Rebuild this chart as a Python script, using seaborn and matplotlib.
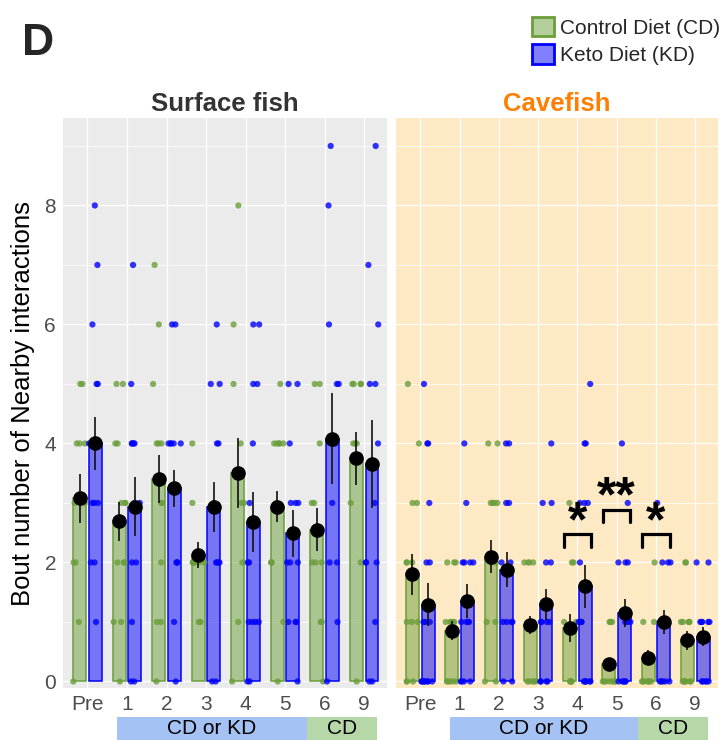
import numpy as np
import pandas as pd
import matplotlib
matplotlib.use('Agg')
import matplotlib.pyplot as plt
import seaborn as sns
from matplotlib.patches import Patch, Rectangle
from matplotlib.ticker import MultipleLocator

sns.set_style('white')
plt.rcParams['font.family'] = ['Liberation Sans', 'DejaVu Sans']

# ---- data ----
days = ['Pre', '1', '2', '3', '4', '5', '6', '9']
diets = ['CD', 'KD']
fish_titles = ['Surface fish', 'Cavefish']

surface_cd_mean = [3.08, 2.69, 3.40, 2.12, 3.50, 2.94, 2.55, 3.75]
surface_cd_sem = [0.41, 0.33, 0.40, 0.22, 0.59, 0.26, 0.36, 0.44]
surface_kd_mean = [4.00, 2.94, 3.25, 2.94, 2.68, 2.49, 4.08, 3.66]
surface_kd_sem = [0.45, 0.49, 0.31, 0.42, 0.50, 0.39, 0.76, 0.74]
cave_cd_mean = [1.80, 0.85, 2.10, 0.95, 0.90, 0.30, 0.40, 0.69]
cave_cd_sem = [0.34, 0.16, 0.27, 0.15, 0.24, 0.07, 0.13, 0.16]
cave_kd_mean = [1.29, 1.35, 1.88, 1.30, 1.60, 1.15, 1.00, 0.75]
cave_kd_sem = [0.36, 0.28, 0.29, 0.26, 0.36, 0.23, 0.20, 0.16]

# individual fish (bout counts), one list per day
surface_cd_pts = [
    [5, 5, 4, 4, 4, 3, 3, 2, 2, 1, 0],
    [5, 5, 4, 4, 3, 3, 3, 2, 2, 2, 1, 1, 0],
    [7, 6, 5, 4, 4, 4, 3, 3, 2, 1, 1, 0],
    [4, 3, 2, 2, 2, 2, 2, 2, 2, 1, 1],
    [8, 6, 5, 4, 3, 3, 2, 1, 0],
    [5, 4, 4, 4, 4, 4, 3, 2, 2, 2, 1, 0],
    [5, 5, 4, 3, 3, 2, 2, 2, 1, 1, 0],
    [5, 5, 5, 5, 4, 4, 4, 3, 2, 0],
]
surface_kd_pts = [
    [8, 7, 6, 5, 5, 4, 4, 4, 3, 3, 3, 2, 2, 1],
    [7, 5, 4, 4, 4, 4, 3, 3, 2, 2, 1, 0, 0],
    [6, 6, 4, 4, 4, 4, 4, 2, 2, 2, 1, 0],
    [6, 5, 5, 4, 4, 3, 2, 2, 2, 2, 0, 0],
    [6, 6, 5, 5, 4, 3, 2, 2, 1, 1, 1, 1, 0, 0],
    [5, 5, 4, 3, 3, 3, 2, 2, 2, 1, 1, 1, 0],
    [9, 8, 6, 5, 5, 4, 3, 2, 2, 1, 0],
    [9, 7, 6, 5, 5, 4, 3, 2, 2, 2, 1, 0, 0],
]
cave_cd_pts = [
    [5, 4, 3, 3, 2, 2, 2, 1, 1, 1, 0, 0, 0],
    [2, 2, 2, 1, 1, 1, 1, 1, 0, 0, 0, 0, 0],
    [4, 4, 3, 3, 3, 3, 2, 2, 1, 1, 0, 0],
    [2, 2, 2, 2, 1, 1, 1, 0, 0, 0, 0, 0],
    [3, 2, 2, 1, 1, 0, 0, 0, 0, 0],
    [1, 1, 1, 0, 0, 0, 0, 0, 0, 0],
    [2, 1, 1, 0, 0, 0, 0, 0, 0, 0],
    [2, 2, 1, 1, 1, 1, 1, 0, 0, 0, 0, 0, 0],
]
cave_kd_pts = [
    [5, 4, 4, 3, 2, 2, 1, 1, 1, 0, 0, 0, 0, 0, 0, 0, 0],
    [4, 3, 2, 2, 2, 2, 1, 1, 1, 1, 0, 0, 0, 0],
    [4, 4, 3, 3, 2, 2, 1, 1, 1, 1, 0, 0],
    [4, 3, 3, 2, 2, 1, 1, 1, 1, 0, 0, 0, 0],
    [5, 4, 4, 3, 3, 3, 2, 1, 1, 1, 1, 0, 0, 0, 0, 0, 0],
    [4, 3, 2, 2, 2, 1, 1, 1, 0, 0, 0, 0, 0],
    [3, 2, 2, 2, 1, 1, 0, 0, 0, 0, 0],
    [2, 2, 1, 1, 1, 1, 1, 0, 0, 0, 0, 0],
]

# significance (cavefish, CD vs KD)
sig_days = ['4', '5', '6']
sig_labels = ['*', '**', '*']
sig_heights = [2.47, 2.89, 2.47]

# treatment phases shown under the x axis
phase_labels = ['CD or KD', 'CD']
phase_spans = [(0.75, 5.55), (5.55, 7.32)]
phase_colors = ['#A4C2F4', '#B6D7A8']

# ---- styling ----
cd_color = '#6B9E3A'
kd_color = '#0000FF'
pal = {'CD': cd_color, 'KD': kd_color}
bg_colors = ['#EBEBEB', '#FEE9C5']
title_colors = ['#333333', '#FF7F00']
tick_gray = '#4D4D4D'


def summary_frame(cd_mean, cd_sem, kd_mean, kd_sem):
    return pd.DataFrame({
        'day': days * 2,
        'diet': ['CD'] * len(days) + ['KD'] * len(days),
        'mean': cd_mean + kd_mean,
        'sem': cd_sem + kd_sem,
    })


def points_frame(cd_pts, kd_pts):
    rows = []
    for diet, pts in [('CD', cd_pts), ('KD', kd_pts)]:
        for d, vals in zip(days, pts):
            for v in vals:
                rows.append((d, diet, v))
    return pd.DataFrame(rows, columns=['day', 'diet', 'count'])


summaries = [summary_frame(surface_cd_mean, surface_cd_sem, surface_kd_mean, surface_kd_sem),
             summary_frame(cave_cd_mean, cave_cd_sem, cave_kd_mean, cave_kd_sem)]
points = [points_frame(surface_cd_pts, surface_kd_pts),
          points_frame(cave_cd_pts, cave_kd_pts)]

W, H = 723, 740
fig = plt.figure(figsize=(W / 100, H / 100), dpi=100)
ax_left = fig.add_axes([63 / W, 1 - 688 / H, 324 / W, 570 / H])
ax_right = fig.add_axes([396 / W, 1 - 688 / H, 322 / W, 570 / H])
axes = [ax_left, ax_right]

np.random.seed(3)
for k, ax in enumerate(axes):
    summ = summaries[k]
    ax.set_facecolor(bg_colors[k])

    sns.barplot(data=summ, x='day', y='mean', hue='diet', order=days, hue_order=diets,
                palette=pal, width=0.8, gap=0.18, errorbar=None, legend=False, ax=ax)
    for cont, col in zip(ax.containers, [cd_color, kd_color]):
        for bar in cont:
            bar.set_facecolor(matplotlib.colors.to_rgba(col, 0.5))
            bar.set_edgecolor(col)
            bar.set_linewidth(1.1)
            bar.set_zorder(2)

    sns.stripplot(data=points[k], x='day', y='count', hue='diet', order=days, hue_order=diets,
                  palette=pal, dodge=True, jitter=0.34, size=4.5, alpha=0.8, linewidth=0,
                  legend=False, ax=ax, zorder=3)

    # mean +/- SEM
    for j, diet in enumerate(diets):
        sub = summ[summ['diet'] == diet]
        xpos = np.arange(len(days)) + (-0.2 if j == 0 else 0.2)
        ax.errorbar(xpos, sub['mean'], yerr=sub['sem'], fmt='o', color='black',
                    ecolor='#111111', ms=9.5, elinewidth=1.2, capsize=0, zorder=5)

    ax.set_xlim(-0.62, 7.58)
    ax.set_ylim(-0.11, 9.47)
    ax.yaxis.set_major_locator(MultipleLocator(2))
    ax.yaxis.set_minor_locator(MultipleLocator(1))
    ax.set_axisbelow(True)
    ax.grid(which='major', color='white', lw=0.9)
    ax.grid(which='minor', axis='y', color='white', lw=0.5)
    ax.grid(which='minor', axis='x', visible=False)
    for s in ax.spines.values():
        s.set_visible(False)
    ax.tick_params(axis='both', which='major', length=3, width=0.8, color='#333333',
                   labelsize=15, labelcolor=tick_gray, pad=2)
    ax.tick_params(axis='y', which='minor', length=0)
    ax.set_xlabel('')
    ax.set_ylabel('')
    ax.set_title(fish_titles[k], fontsize=18.5, fontweight='bold', color=title_colors[k], pad=5)

    # phase boxes under the axis
    trans = ax.get_xaxis_transform()
    for lab, (x0, x1), col in zip(phase_labels, phase_spans, phase_colors):
        ax.add_patch(Rectangle((x0, -0.0915), x1 - x0, 0.041, transform=trans,
                               facecolor=col, edgecolor='none', clip_on=False))
        ax.text((x0 + x1) / 2, -0.0715, lab, transform=trans, ha='center', va='center',
                fontsize=15, color='black')

ax_left.set_ylabel('Bout number of Nearby interactions', fontsize=18.5, color='black')
ax_left.yaxis.set_label_coords(-0.085, 0.50)
ax_right.tick_params(axis='y', which='both', length=0, labelleft=False)

# significance brackets
for d, lab, h in zip(sig_days, sig_labels, sig_heights):
    xc = days.index(d)
    ax_right.plot([xc - 0.35, xc - 0.35, xc + 0.35, xc + 0.35], [h - 0.21, h, h, h - 0.21],
                  color='black', lw=2.3, solid_joinstyle='miter', zorder=6)
    ax_right.text(xc, h - 0.2, lab, ha='center', va='bottom', fontsize=36,
                  fontweight='bold', color='black', zorder=6)

# legend
handles = [Patch(facecolor=matplotlib.colors.to_rgba(cd_color, 0.5), edgecolor=cd_color, lw=2,
                 label='Control Diet (CD)'),
           Patch(facecolor=matplotlib.colors.to_rgba(kd_color, 0.5), edgecolor=kd_color, lw=2,
                 label='Keto Diet (KD)')]
fig.legend(handles=handles, loc='upper left', bbox_to_anchor=(532 / W, 1 - 17 / H),
           frameon=False, fontsize=15, handlelength=1.05, handleheight=1.05,
           handletextpad=0.3, labelspacing=0.32, borderpad=0, borderaxespad=0)

fig.text(22 / W, 1 - 55 / H, 'D', fontsize=32, fontweight='bold', va='baseline', ha='left')

fig.savefig('out.png', dpi=100)
